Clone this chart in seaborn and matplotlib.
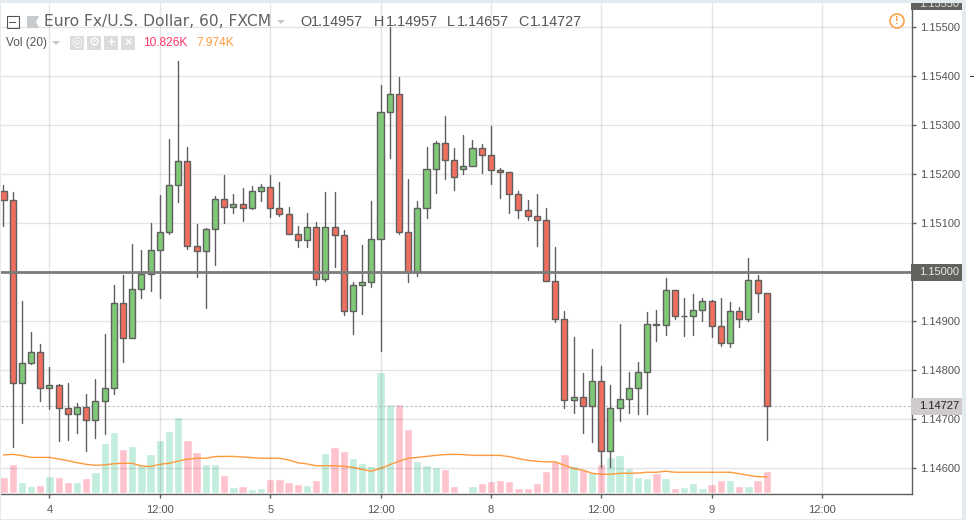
import numpy as np
import pandas as pd
import matplotlib
matplotlib.use("Agg")
import matplotlib.pyplot as plt
from matplotlib.patches import Rectangle, Circle, Polygon
from matplotlib.transforms import IdentityTransform
import seaborn as sns

# --- Data ---
opens = [1.15166, 1.15147, 1.14774, 1.14814, 1.14837, 1.14763, 1.14770, 1.14723, 1.14710, 1.14725, 1.14698, 1.14737,
         1.14765, 1.14937, 1.14865, 1.14965, 1.14996, 1.15045, 1.15083, 1.15177, 1.15226, 1.15053, 1.15043, 1.15088,
         1.15149, 1.15134, 1.15139, 1.15132, 1.15165, 1.15173, 1.15132, 1.15118, 1.15079, 1.15065, 1.15092, 1.14986,
         1.15092, 1.15075, 1.14920, 1.14973, 1.14980, 1.15067, 1.15326, 1.15363, 1.15083, 1.15001, 1.15132, 1.15210,
         1.15263, 1.15228, 1.15210, 1.15216, 1.15253, 1.15240, 1.15208, 1.15204, 1.15159, 1.15126, 1.15114, 1.15106,
         1.14982, 1.14904, 1.14739, 1.14745, 1.14727, 1.14778, 1.14635, 1.14723, 1.14741, 1.14765, 1.14796, 1.14894,
         1.14892, 1.14963, 1.14910, 1.14910, 1.14924, 1.14941, 1.14890, 1.14855, 1.14922, 1.14904, 1.14984, 1.14957]
highs = [1.15178, 1.15164, 1.14941, 1.14878, 1.14854, 1.14807, 1.14772, 1.14774, 1.14733, 1.14752, 1.14782, 1.14874,
         1.14974, 1.14994, 1.15058, 1.15045, 1.15100, 1.15158, 1.15272, 1.15431, 1.15255, 1.15098, 1.15090, 1.15155,
         1.15198, 1.15160, 1.15172, 1.15176, 1.15180, 1.15198, 1.15184, 1.15133, 1.15094, 1.15121, 1.15102, 1.15164,
         1.15164, 1.15086, 1.14980, 1.15056, 1.15145, 1.15382, 1.15500, 1.15398, 1.15190, 1.15145, 1.15255, 1.15268,
         1.15318, 1.15253, 1.15280, 1.15270, 1.15261, 1.15298, 1.15212, 1.15204, 1.15165, 1.15147, 1.15160, 1.15130,
         1.15051, 1.14921, 1.14867, 1.14794, 1.14843, 1.14809, 1.14770, 1.14894, 1.14796, 1.14818, 1.14918, 1.14924,
         1.14988, 1.14963, 1.14948, 1.14956, 1.14948, 1.14943, 1.14948, 1.14939, 1.14929, 1.15029, 1.14994, 1.14957]
lows = [1.15095, 1.14644, 1.14693, 1.14812, 1.14738, 1.14722, 1.14655, 1.14659, 1.14673, 1.14636, 1.14663, 1.14671,
        1.14752, 1.14818, 1.14865, 1.14948, 1.14962, 1.14948, 1.15079, 1.15144, 1.15047, 1.14991, 1.14928, 1.15015,
        1.15101, 1.15121, 1.15105, 1.15128, 1.15145, 1.15113, 1.15115, 1.15077, 1.15052, 1.15052, 1.14975, 1.14982,
        1.15010, 1.14913, 1.14874, 1.14915, 1.14969, 1.14840, 1.15232, 1.15079, 1.14981, 1.14993, 1.15111, 1.15162,
        1.15191, 1.15168, 1.15201, 1.15216, 1.15203, 1.15180, 1.15152, 1.15121, 1.15111, 1.15107, 1.15054, 1.14982,
        1.14899, 1.14723, 1.14714, 1.14673, 1.14653, 1.14602, 1.14602, 1.14697, 1.14714, 1.14712, 1.14712, 1.14860,
        1.14873, 1.14905, 1.14871, 1.14873, 1.14901, 1.14868, 1.14850, 1.14848, 1.14889, 1.14900, 1.14918, 1.14657]
closes = [1.15147, 1.14774, 1.14814, 1.14837, 1.14763, 1.14770, 1.14723, 1.14710, 1.14725, 1.14698, 1.14737, 1.14765,
          1.14937, 1.14865, 1.14965, 1.14996, 1.15045, 1.15083, 1.15177, 1.15226, 1.15053, 1.15043, 1.15088, 1.15149,
          1.15134, 1.15139, 1.15132, 1.15165, 1.15173, 1.15132, 1.15118, 1.15079, 1.15065, 1.15092, 1.14986, 1.15092,
          1.15075, 1.14920, 1.14973, 1.14980, 1.15067, 1.15326, 1.15363, 1.15083, 1.15001, 1.15132, 1.15210, 1.15263,
          1.15228, 1.15194, 1.15216, 1.15253, 1.15240, 1.15208, 1.15204, 1.15159, 1.15126, 1.15114, 1.15106, 1.14982,
          1.14904, 1.14739, 1.14745, 1.14727, 1.14778, 1.14635, 1.14723, 1.14741, 1.14765, 1.14796, 1.14894, 1.14892,
          1.14963, 1.14910, 1.14910, 1.14924, 1.14941, 1.14890, 1.14855, 1.14922, 1.14904, 1.14984, 1.14957, 1.14727]
volumes = [7.9, 14.3, 5.4, 3.4, 3.9, 8.4, 7.9, 5.4, 5.4, 7.4, 10.3, 24.6,
           30.0, 21.6, 23.1, 13.8, 19.2, 26.1, 30.5, 37.4, 26.1, 20.2, 14.3, 14.3,
           8.9, 3.0, 3.4, 2.0, 2.5, 6.9, 6.9, 5.4, 4.4, 3.9, 6.4, 19.7,
           22.6, 20.7, 17.2, 14.8, 13.3, 59.5, 43.8, 43.8, 31.5, 15.7, 13.8, 12.8,
           11.8, 3.4, 0.5, 3.4, 4.9, 5.9, 6.4, 5.9, 2.5, 2.5, 4.9, 10.8,
           15.7, 19.2, 13.3, 11.8, 10.3, 14.3, 17.7, 18.7, 12.3, 7.9, 7.4, 9.8,
           7.4, 2.5, 3.0, 4.9, 2.5, 4.4, 6.4, 6.4, 3.4, 3.4, 6.4, 10.826]
vol_ma = [18.7, 19.0, 18.4, 17.5, 17.5, 17.5, 16.7, 15.9, 14.9, 14.1, 13.6, 13.8,
          14.4, 14.6, 14.6, 13.3, 13.0, 14.1, 14.6, 15.7, 16.6, 17.1, 17.1, 17.9,
          18.0, 18.0, 17.7, 17.4, 17.1, 17.1, 17.1, 16.2, 14.9, 14.3, 13.4, 13.4,
          13.4, 13.1, 12.6, 11.6, 10.7, 12.1, 13.9, 15.6, 17.1, 17.5, 18.0, 18.5,
          18.9, 19.0, 18.9, 18.5, 18.5, 18.5, 18.5, 17.9, 16.9, 16.1, 15.6, 15.3,
          15.3, 13.6, 12.1, 11.2, 9.7, 9.2, 9.2, 9.7, 9.7, 9.8, 10.2, 10.2,
          10.7, 10.2, 10.2, 10.2, 10.2, 10.2, 10.2, 10.2, 9.5, 8.7, 8.0, 7.974]
price_ticks = [1.146, 1.147, 1.148, 1.149, 1.150, 1.151, 1.152, 1.153, 1.154, 1.155]
time_tick_bars = [5, 17, 29, 41, 53, 65, 77, 89]
time_tick_labels = ['4', '12:00', '5', '12:00', '8', '12:00', '9', '12:00']
level_line = 1.15
last_close = closes[-1]

GREEN = '#80c878'
RED = '#ee6f60'
EDGE = '#5f5f5f'
TEXT = '#555555'
STRIP = '#e4eaed'

sns.set_style("white")
plt.rcParams['font.family'] = ['Liberation Sans', 'DejaVu Sans']

df = pd.DataFrame({'bar': np.arange(len(opens)), 'open': opens, 'high': highs, 'low': lows,
                   'close': closes, 'volume': volumes, 'vol_ma': vol_ma})
df['direction'] = np.where(df['close'] >= df['open'], 'up', 'down')

W, H = 974, 520
fig = plt.figure(figsize=(W / 100, H / 100), dpi=100, facecolor='white')
L, R, T, B = 1, 911.5, 3, 494
rect = [L / W, 1 - B / H, (R - L) / W, (B - T) / H]

# Volume sits behind the price panel on its own scale
ax_vol = fig.add_axes(rect)
ax = fig.add_axes(rect, sharex=ax_vol)
ax.patch.set_visible(False)

sns.barplot(data=df, x='bar', y='volume', hue='direction', native_scale=True, dodge=False, width=0.9,
            palette={'up': '#c3eddd', 'down': '#ffc3cd'}, saturation=1, legend=False, errorbar=None, ax=ax_vol)
# seaborn narrows the native-scale bars when hue is split, widen them back
for bar in ax_vol.patches:
    centre = bar.get_x() + bar.get_width() / 2
    bar.set_x(centre - 0.45)
    bar.set_width(0.9)
sns.lineplot(data=df, x='bar', y='vol_ma', color='#ff9a3c', linewidth=1.0, ax=ax_vol)
ax_vol.set_ylim(-0.5, 241)
ax_vol.set_yticks([])
ax_vol.set_xlabel('')
ax_vol.set_ylabel('')

# Wicks
wicks = df.melt(id_vars='bar', value_vars=['high', 'low'], value_name='price')
sns.lineplot(data=wicks, x='bar', y='price', units='bar', estimator=None, color=EDGE, linewidth=1.0, ax=ax, zorder=3)

# Bodies
for name, colour in [('up', GREEN), ('down', RED)]:
    part = df[df['direction'] == name]
    ax.bar(part['bar'], (part['close'] - part['open']).abs(), bottom=part[['open', 'close']].min(axis=1),
           width=0.66, color=colour, edgecolor=EDGE, linewidth=1.0, zorder=4)

ax.axhline(level_line, color='#7c7c7a', linewidth=2, zorder=5)
ax.axhline(last_close, color='#b8b8b8', linewidth=0.8, linestyle=(0, (2, 2)), zorder=2)

ax.set_ylim(1.155 - 467 / 49050, 1.155 + 24 / 49050)
ax.set_xlim(-0.27, 98.74)
ax.set_yticks(price_ticks)
# the 1.15000 tick text is carried by the level box below
ax.set_yticklabels(['' if p == level_line else f'{p:.5f}' for p in price_ticks])
ax.yaxis.tick_right()
ax.set_xticks(time_tick_bars)
ax.set_xticklabels(time_tick_labels)
ax.set_xlabel('')
ax.set_ylabel('')
ax.grid(True, color='black', alpha=0.1, linewidth=1)
ax.set_axisbelow(True)
ax.tick_params(axis='both', length=2.9, width=1, color=EDGE, labelcolor=TEXT, labelsize=8, bottom=True, right=True)
ax.tick_params(axis='x', pad=5)
ax.tick_params(axis='y', pad=3)
ax_vol.tick_params(axis='x', labelbottom=False, bottom=False)

for side in ('top', 'left', 'bottom', 'right'):
    ax_vol.spines[side].set_visible(False)
for side in ('top', 'left'):
    ax.spines[side].set_visible(False)
for side in ('bottom', 'right'):
    ax.spines[side].set_color(EDGE)
    ax.spines[side].set_linewidth(1)


# --- Overlay furniture in pixel coordinates ---
ident = IdentityTransform()

def box(x, y, w, h, colour, **kw):
    p = Rectangle((x, H - y - h), w, h, transform=ident, facecolor=colour, edgecolor='none', zorder=2, **kw)
    fig.add_artist(p)
    return p

def label(x, y, s, colour=TEXT, size=8, **kw):
    kw.setdefault('va', 'center')
    return fig.text(x, H - y, s, color=colour, fontsize=size, transform=ident, zorder=3, **kw)

def triangle(x, y, colour='#c8c8cc'):
    fig.add_artist(Polygon([(x, H - y), (x + 8, H - y), (x + 4, H - y - 4)], transform=ident,
                           facecolor=colour, edgecolor='none', zorder=3))

# page strips
box(0, 0, 966, 3, STRIP)
box(962, 0, 4, 519, STRIP)
box(0, 519, 966, 1, STRIP)
box(0, 0, 1, 519, STRIP)
box(970, 76, 4, 1, '#333333')

# price labels on the right axis
top_box = box(911, 3, 51, 7, '#62625f')
top_text = label(919, 4, '1.15550', colour='#dddddd')
top_text.set_clip_path(top_box)
box(911, 264, 51, 17, '#62625f')
label(919, 272, '1.15000', colour='#e8e8e8')
box(911, 398, 51, 17, '#cfcbcd')
label(919, 406, '1.14727', colour='#222222')

# header
fig.add_artist(Rectangle((6.5, H - 28), 12, 12, transform=ident, facecolor='none', edgecolor='#555555', linewidth=0.8, zorder=3))
box(9, 21.5, 7, 1, '#555555')
fig.add_artist(Polygon([(27, H - 16), (39, H - 16), (36, H - 22), (39, H - 28), (27, H - 28)], transform=ident,
                       facecolor='#c8cbce', edgecolor='none', zorder=3))
label(44, 22, 'Euro Fx/U.S. Dollar, 60, FXCM', colour='#636363', size=11.2, family=['DejaVu Sans'])
triangle(277, 20)
for x0, s in [(300, 'O'), (374, 'H'), (447, 'L'), (518, 'C')]:
    label(x0, 22, s, size=10.4)
for x0, s in [(311, '1.14957'), (386, '1.14957'), (457, '1.14657'), (530, '1.14727')]:
    label(x0, 22, s, size=10.4)

label(6, 43, 'Vol (20)', size=8.6)
triangle(52, 41)
for x0, s in [(70, '\u25ce'), (87, '\u2699'), (104, '+'), (121, '\u00d7')]:
    box(x0, 36, 14, 14, '#dcdcdf')
    label(x0 + 7, 43, s, colour='white', size=9, ha='center', fontweight='bold')
label(143, 43, '10.826K', colour='#ff3366', size=8.6)
label(196, 43, '7.974K', colour='#ff9a3c', size=8.6)

# warning badge
fig.add_artist(Circle((897, H - 21), 7, transform=ident, facecolor='white', edgecolor='#ff9a3c', linewidth=1.1, zorder=3))
label(897, 21, '!', colour='#ff9a3c', size=8, ha='center', fontweight='bold')

fig.savefig('out.png', dpi=100)
